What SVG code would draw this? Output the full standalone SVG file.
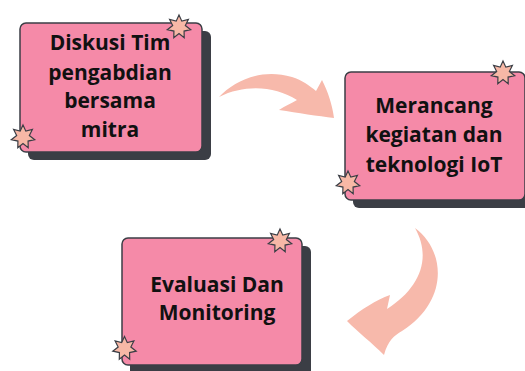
<svg xmlns="http://www.w3.org/2000/svg" width="525" height="371" viewBox="0 0 525 371">
<style>
.shadow{fill:#3b3e45}
.box{fill:#f58aa8;stroke:#3b3e45;stroke-width:1.5}
.star{fill:#f7b8a6;stroke:#3b3e45;stroke-width:1.2;stroke-linejoin:miter}
.lbl{font-family:"Open Sans","Liberation Sans",sans-serif;font-weight:700;font-size:21px;fill:#111;text-anchor:middle}
.arrow{fill:#f7b9ab}
</style>
<defs>
<path id="star" d="M0,-12 L2.82,-5.86 L9.38,-7.48 L6.34,-1.45 L11.70,2.67 L5.08,4.05 L5.21,10.81 L0,6.5 L-5.21,10.81 L-5.08,4.05 L-11.70,2.67 L-6.34,-1.45 L-9.38,-7.48 L-2.82,-5.86 Z"/>
</defs>
<rect width="525" height="371" fill="#ffffff"/>
<g id="connectors">
<path class="arrow" d="M219,97 C235,80 262,68 292,77 C302,80 310,86 316,91 L322,80 C328,92 332,104 334,118 C318,116 298,113 279,110 C285,106 290,104 297,100 C275,86 245,84 219,97 Z"/>
<path class="arrow" d="M415,228 C445,250 450,300 402,331 C394,336 388,340 384,355 C372,343 358,332 347,321 C362,309 376,300 390,295 L387,309 C420,288 432,258 415,228 Z"/>
</g>
<g id="node1">
<rect class="shadow" x="28" y="31" width="183" height="129" rx="6"/>
<rect class="box" x="20" y="23" width="182" height="129" rx="6"/>
<text class="lbl" x="110" y="50">Diskusi Tim</text>
<text class="lbl" x="110" y="80">pengabdian</text>
<text class="lbl" x="110" y="108">bersama</text>
<text class="lbl" x="110" y="137">mitra</text>
<use href="#star" class="star" x="179" y="27"/>
<use href="#star" class="star" x="23" y="137"/>
</g>
<g id="node2">
<rect class="shadow" x="353" y="80" width="180" height="128" rx="6"/>
<rect class="box" x="345" y="72" width="180" height="128" rx="6"/>
<text class="lbl" x="434" y="113">Merancang</text>
<text class="lbl" x="434" y="142">kegiatan dan</text>
<text class="lbl" x="434" y="172">teknologi IoT</text>
<use href="#star" class="star" x="503" y="73"/>
<use href="#star" class="star" x="348" y="183"/>
</g>
<g id="node3">
<rect class="shadow" x="130" y="246" width="181" height="130" rx="6"/>
<rect class="box" x="122" y="238" width="180" height="127" rx="6"/>
<text class="lbl" x="217" y="292">Evaluasi Dan</text>
<text class="lbl" x="217" y="320">Monitoring</text>
<use href="#star" class="star" x="280" y="241"/>
<use href="#star" class="star" x="124.5" y="348.5"/>
</g>
</svg>
